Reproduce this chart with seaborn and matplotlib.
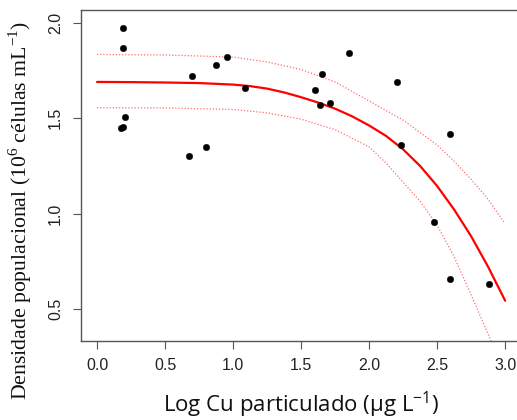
import matplotlib
matplotlib.use("Agg")
import matplotlib.pyplot as plt
import seaborn as sns
import pandas as pd

# Observed points
obs_x = [0.191, 0.191, 0.203, 0.174, 0.189, 0.676, 0.804, 0.696, 0.877, 0.956,
         1.086, 1.855, 1.657, 1.605, 1.637, 1.711, 2.203, 2.593, 2.235, 2.480,
         2.593, 2.880]
obs_y = [1.972, 1.869, 1.508, 1.449, 1.456, 1.300, 1.349, 1.719, 1.779, 1.820,
         1.658, 1.840, 1.731, 1.649, 1.568, 1.581, 1.690, 1.419, 1.360, 0.957,
         0.658, 0.634]

# Fitted curve
fit_x = [0.0, 0.25, 0.5, 0.75, 1.0, 1.125, 1.25, 1.375, 1.5, 1.625, 1.75, 1.875,
         2.0, 2.125, 2.25, 2.375, 2.5, 2.625, 2.75, 2.875, 3.0]
fit_y = [1.690, 1.689, 1.687, 1.684, 1.676, 1.668, 1.655, 1.635, 1.610, 1.582,
         1.550, 1.510, 1.462, 1.407, 1.337, 1.250, 1.145, 1.022, 0.882, 0.722, 0.545]

# Confidence band limits
up_x = [0.0, 0.5, 1.0, 1.25, 1.5, 1.75, 2.0, 2.25, 2.5, 2.625, 2.75, 2.875, 2.99]
up_y = [1.834, 1.831, 1.820, 1.795, 1.755, 1.690, 1.590, 1.490, 1.360, 1.275, 1.180, 1.075, 0.958]
lo_x = [0.0, 0.5, 1.0, 1.25, 1.5, 1.75, 2.0, 2.125, 2.25, 2.375, 2.5, 2.625, 2.75, 2.894, 3.0]
lo_y = [1.555, 1.554, 1.546, 1.528, 1.495, 1.440, 1.350, 1.265, 1.165, 1.065, 0.940, 0.775, 0.575, 0.339, 0.15]

x_ticks = [0.0, 0.5, 1.0, 1.5, 2.0, 2.5, 3.0]
x_tick_labels = ["0.0", "0.5", "1.0", "1.5", "2.0", "2.5", "3.0"]
y_ticks = [0.5, 1.0, 1.5, 2.0]
y_tick_labels = ["0.5", "1.0", "1.5", "2.0"]

sns.set_theme(style="white")
plt.rcParams["font.family"] = ["Liberation Sans", "DejaVu Sans"]

fig = plt.figure(figsize=(5.17, 4.20), dpi=100)
ax = fig.add_axes([0.1567, 0.188, 0.852, 0.788])

df_obs = pd.DataFrame({"x": obs_x, "y": obs_y})
df_fit = pd.DataFrame({"x": fit_x, "y": fit_y})
df_up = pd.DataFrame({"x": up_x, "y": up_y})
df_lo = pd.DataFrame({"x": lo_x, "y": lo_y})

sns.lineplot(data=df_up, x="x", y="y", ax=ax, color="#ff3030", linewidth=0.9,
             linestyle=(0, (1, 1.5)), alpha=0.7, sort=False)
sns.lineplot(data=df_lo, x="x", y="y", ax=ax, color="#ff3030", linewidth=0.9,
             linestyle=(0, (1, 1.5)), alpha=0.7, sort=False)
sns.lineplot(data=df_fit, x="x", y="y", ax=ax, color="#ff0000", linewidth=1.6, sort=False)
sns.scatterplot(data=df_obs, x="x", y="y", ax=ax, color="black", s=22,
                edgecolor="black", linewidth=0.3, zorder=5)

ax.set_xlim(-0.118, 3.12)
ax.set_ylim(0.334, 2.066)

ax.set_xticks(x_ticks)
ax.set_xticklabels(x_tick_labels)
ax.set_yticks(y_ticks)
ax.set_yticklabels(y_tick_labels, rotation=90, va="center")

ax.tick_params(axis="both", which="major", direction="out", length=6, width=0.8,
               color="#555555", labelsize=11.5, labelcolor="#222222",
               bottom=True, left=True, pad=6)
ax.tick_params(axis="y", pad=7)

for sp in ax.spines.values():
    sp.set_color("#555555")
    sp.set_linewidth(1.0)

ax.set_xlabel(r"Log Cu particulado (µg L$^{\mathregular{-1}}$)",
              fontsize=16, family=["Open Sans", "DejaVu Sans"], labelpad=12, color="#111111")
ax.set_ylabel(r"Densidade populacional (10$^{\mathregular{6}}$ células mL$^{\mathregular{-1}}$)",
              fontsize=15.7, family=["Liberation Serif", "DejaVu Serif"], color="#111111")
ax.yaxis.set_label_coords(-0.106, 0.395)

fig.savefig("out.png", dpi=100)
